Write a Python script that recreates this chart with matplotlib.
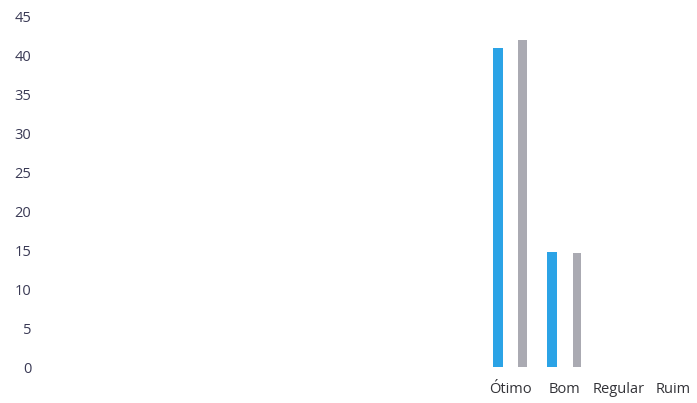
import numpy as np
import matplotlib.pyplot as plt

# values
categories = ["Ótimo", "Bom", "Regular", "Ruim"]
serie_azul = [41, 14.8, 0, 0]
serie_cinza = [42, 14.7, 0, 0]
yticks = [0, 5, 10, 15, 20, 25, 30, 35, 40, 45]

plt.rcParams["font.family"] = ["Open Sans", "DejaVu Sans"]

fig = plt.figure(figsize=(6.97, 4.03), dpi=100)
ax = fig.add_axes([0.065, 0.089, 0.935, 0.870])

x = np.arange(len(categories))
w = 0.18
ax.bar(x - 0.225, serie_azul, width=w, color="#2ba3e6")
ax.bar(x + 0.225, serie_cinza, width=w * 0.85, color="#aaaab2")

ax.set_xlim(-8.53, 3.43)
ax.set_ylim(0, 45)
ax.set_yticks(yticks)
ax.set_xticks(x)
ax.set_xticklabels(categories, fontsize=10.5, color="#333338")
ax.tick_params(axis="y", labelsize=10.5, labelcolor="#3a3a55", length=0, pad=10)
ax.tick_params(axis="x", length=0, pad=11)
for s in ax.spines.values():
    s.set_visible(False)

fig.savefig("out.png", dpi=100)
